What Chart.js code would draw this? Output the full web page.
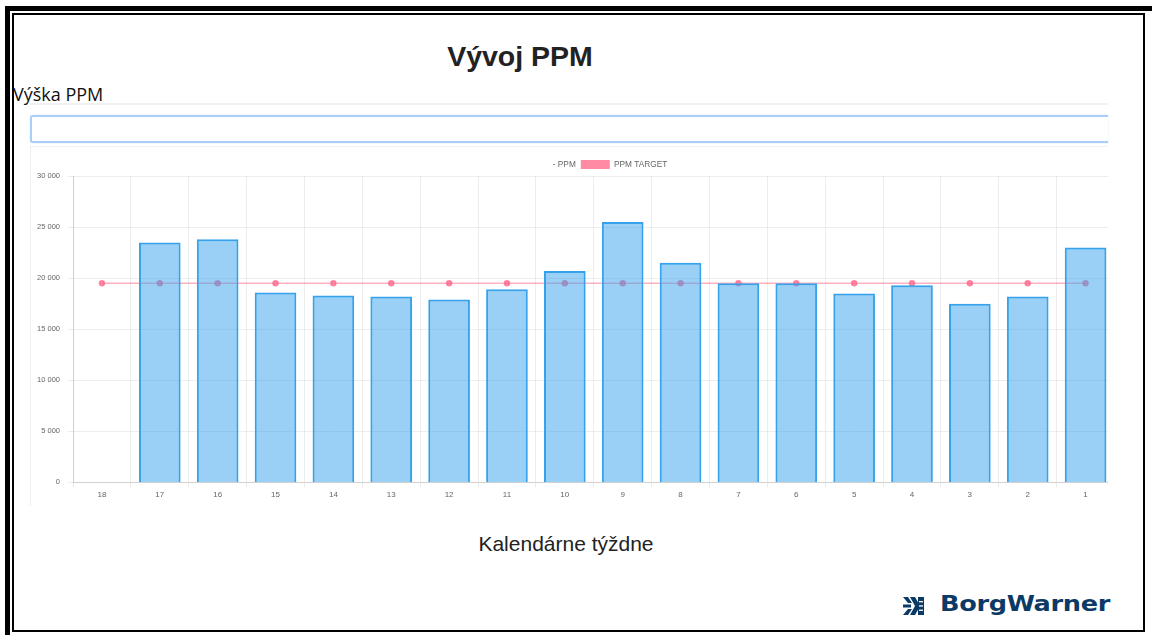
<!DOCTYPE html>
<html>
<head>
<meta charset="utf-8">
<script src="https://cdn.jsdelivr.net/npm/chart.js@4.4.1/dist/chart.umd.min.js"></script>
<style>
  html, body { margin: 0; padding: 0; background: #fff; width: 1152px; height: 635px; overflow: hidden; }
  #outer { position: absolute; left: 5px; top: 6px; width: 1142px; height: 624px; border: 5px solid #000; border-bottom-width: 3px; box-sizing: content-box; }
  .abs { position: absolute; }
  #title { left: 0; top: 40px; width: 1040px; text-align: center; font: bold 28.5px "Liberation Sans", Arial, sans-serif; color: #222; }
  #ylab { left: 13px; top: 82px; font: 18px "Open Sans", sans-serif; color: #111; }
  #panelTop { left: 30px; top: 103px; width: 1078px; height: 0; border-top: 2px solid #f1f1f1; }
  #inputBox { left: 30px; top: 115px; width: 1078px; height: 28px; box-sizing: border-box; border: 2px solid #a9cff8; border-right: none; border-radius: 3px 0 0 3px; box-shadow: 0 0 2px #d4e8fd; background: #fff; }
  #chartPanel { left: 30px; top: 146px; width: 1078px; height: 360px; overflow: hidden; border-top: 1px solid #f1f1f1; border-left: 1px solid #eeeeee; box-sizing: border-box; }
  #chartWrap { position: absolute; left: -1px; top: 6px; width: 1090px; height: 350px; }
  #xlab { left: 0; top: 532px; width: 1132px; text-align: center; font: 21px "Liberation Sans", Arial, sans-serif; color: #222; }
  #logo { left: 902px; top: 591px; height: 30px; }
  #logoText { position: absolute; left: 38px; top: 0; font: bold 21px "DejaVu Sans", sans-serif; color: #0b3a66; transform-origin: 0 0; transform: scale(1.22, 1.05); white-space: nowrap; letter-spacing: -0.3px; }
</style>
</head>
<body>
<div id="outer"></div>
<div class="abs" style="left:12px;top:13px;width:1133px;height:619px;border:2px solid #000;box-sizing:border-box;"></div>
<div id="title" class="abs">Vývoj PPM</div>
<div id="ylab" class="abs">Výška PPM</div>
<div id="panelTop" class="abs"></div>
<div id="inputBox" class="abs"></div>
<div id="chartPanel" class="abs"><div id="chartWrap"><canvas id="c"></canvas></div></div>
<div id="xlab" class="abs">Kalendárne týždne</div>
<div id="logo" class="abs">
  <svg width="24" height="22" viewBox="0 0 24 22" style="position:absolute;left:0;top:5px">
    <g fill="#0b3a66">
      <polygon points="1,1 6,1 10,7 6,7"/>
      <polygon points="1,19 6,19 10,13 6,13"/>
      <rect x="1" y="8.5" width="8" height="3"/>
      <polygon points="8,1 13,1 17,8 17,12 13,19 8,19 13,10"/>
      <rect x="16" y="1" width="6" height="18"/>
    </g>
    <g fill="#fff">
      <rect x="17" y="5" width="4" height="1.3"/>
      <rect x="17" y="9.3" width="4" height="1.3"/>
      <rect x="17" y="13.6" width="4" height="1.3"/>
    </g>
  </svg>
  <div id="logoText">BorgWarner</div>
</div>
<script>
const weeks = ['18','17','16','15','14','13','12','11','10','9','8','7','6','5','4','3','2','1'];
const ppmValues = [null, 23500, 23800, 18600, 18300, 18200, 17900, 18900, 20700, 25500, 21500, 19500, 19500, 18500, 19300, 17500, 18200, 23000];
const ppmTarget = [19500, 19500, 19500, 19500, 19500, 19500, 19500, 19500, 19500, 19500, 19500, 19500, 19500, 19500, 19500, 19500, 19500, 19500];
const yTicks = { min: 0, max: 30000, step: 5000 };

function fmt(v) { return String(v).replace(/\B(?=(\d{3})+(?!\d))/g, ' '); }

Chart.defaults.font.family = '"Liberation Sans", Arial, sans-serif';
Chart.defaults.color = '#666';

const legendTighten = {
  id: 'legendTighten',
  beforeInit(chart) {
    const lg = chart.legend;
    if (!lg) return;
    const origFit = lg.fit;
    lg.fit = function() { origFit.call(this); this.height -= 3; };
  }
};

new Chart(document.getElementById('c'), {
  type: 'bar',
  data: {
    labels: weeks,
    datasets: [
      {
        label: '- PPM',
        data: ppmValues,
        backgroundColor: 'rgba(54,162,235,0.5)',
        borderColor: 'rgb(54,162,235)',
        borderWidth: 2,
        order: 0
      },
      {
        type: 'line',
        label: 'PPM TARGET',
        data: ppmTarget,
        backgroundColor: 'rgba(255,99,132,0.75)',
        borderColor: 'rgba(255,99,132,0.5)',
        pointBackgroundColor: 'rgba(255,99,132,0.7)',
        pointBorderColor: 'rgba(255,99,132,0.7)',
        pointRadius: 2.5,
        borderWidth: 1.5,
        fill: false,
        order: 1
      }
    ]
  },
  plugins: [legendTighten],
  options: {
    responsive: true,
    maintainAspectRatio: false,
    animation: false,
    layout: { padding: { left: 0, right: 0, top: 2, bottom: 0 } },
    plugins: {
      legend: {
        labels: {
          boxWidth: 29,
          boxHeight: 9,
          padding: 5,
          font: { size: 8.3 },
          generateLabels: function(chart) {
            const items = Chart.defaults.plugins.legend.labels.generateLabels(chart);
            items[0].fillStyle = 'rgba(0,0,0,0)';
            items[0].strokeStyle = 'rgba(0,0,0,0)';
            items[0].text = '\u00a0'.repeat(16) + items[0].text;
            items[1].lineWidth = 0;
            return items;
          }
        }
      },
      tooltip: { enabled: false }
    },
    scales: {
      x: {
        grid: { color: 'rgba(0,0,0,0.07)', tickLength: 5 },
        border: { color: 'rgba(0,0,0,0.12)' },
        ticks: { font: { size: 8 }, padding: 3, maxRotation: 0 }
      },
      y: {
        min: yTicks.min,
        max: yTicks.max,
        afterFit: function(s) { s.width = 43; },
        grid: { color: 'rgba(0,0,0,0.07)', tickLength: 5 },
        border: { color: 'rgba(0,0,0,0.12)' },
        ticks: { stepSize: yTicks.step, font: { size: 7.5 }, padding: 8, callback: v => fmt(v) }
      }
    }
  }
});
</script>
</body>
</html>
